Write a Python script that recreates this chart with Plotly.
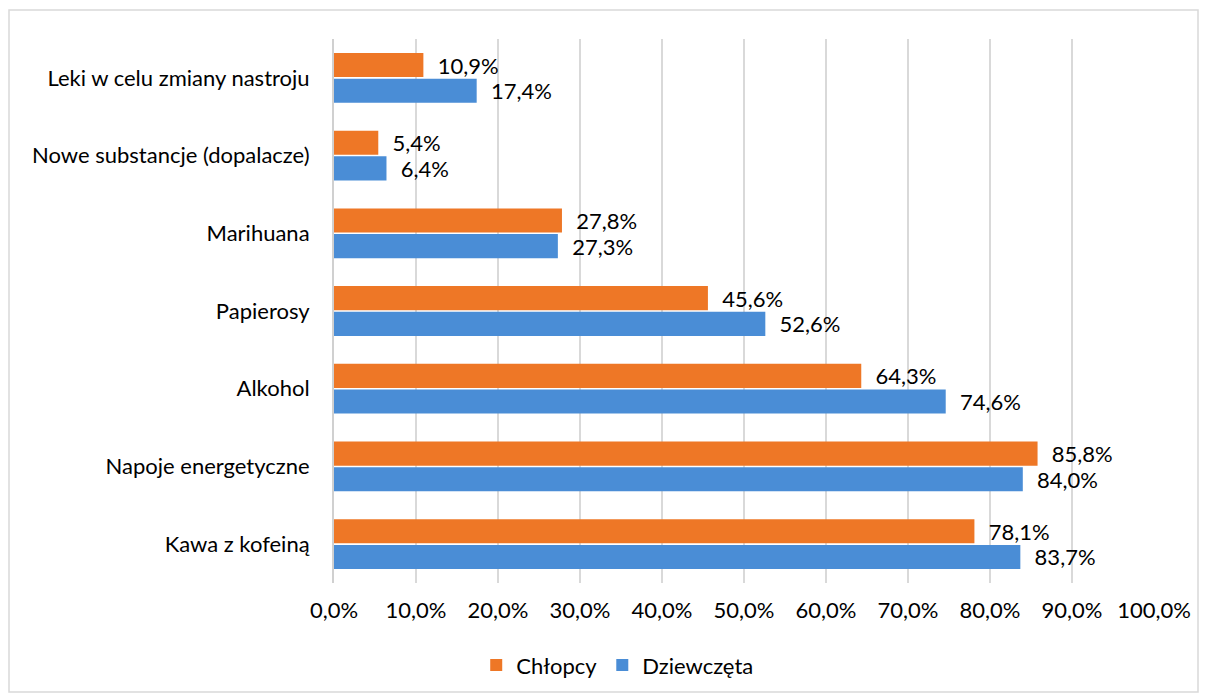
import plotly.graph_objects as go

categories = ["Kawa z kofeiną", "Napoje energetyczne", "Alkohol", "Papierosy",
              "Marihuana", "Nowe substancje (dopalacze)", "Leki w celu zmiany nastroju"]
chlopcy = [78.1, 85.8, 64.3, 45.6, 27.8, 5.4, 10.9]
dziewczeta = [83.7, 84.0, 74.6, 52.6, 27.3, 6.4, 17.4]
x_ticks = [0, 10, 20, 30, 40, 50, 60, 70, 80, 90, 100]
x_ticktext = [f"{v:.1f}%".replace(".", ",") for v in x_ticks]

FONT = "Lato, Open Sans, sans-serif"
FS = 22

fig = go.Figure()
fig.add_trace(go.Bar(
    y=categories, x=dziewczeta, orientation="h", name="Dziewczęta",
    marker=dict(color="#4A8DD6", line=dict(width=0)),
    texttemplate="\u00a0\u00a0%{x:.1f}%", textposition="outside", constraintext="none",
    textfont=dict(size=FS, color="#000000", family=FONT), cliponaxis=False,
))
fig.add_trace(go.Bar(
    y=categories, x=chlopcy, orientation="h", name="Chłopcy",
    marker=dict(color="#EE7726", line=dict(width=0)),
    texttemplate="\u00a0\u00a0%{x:.1f}%", textposition="outside", constraintext="none",
    textfont=dict(size=FS, color="#000000", family=FONT), cliponaxis=False,
))

W, H = 1200, 690
L, R, T, B = 326, 54, 31, 115
pw, ph = W - L - R, H - T - B

fig.update_layout(
    width=W, height=H,
    margin=dict(l=L, r=R, t=T, b=B),
    paper_bgcolor="white", plot_bgcolor="white",
    barmode="group", bargap=0.34, bargroupgap=0.06,
    separators=",.",
    font=dict(family=FONT, size=FS, color="#000000"),
    legend=dict(orientation="h", x=0.346, xanchor="center", y=-0.151, yanchor="middle",
                traceorder="reversed", font=dict(size=FS), itemwidth=30),
    xaxis=dict(range=[0, 100], tickvals=x_ticks, ticktext=x_ticktext,
               showgrid=True, gridcolor="#D9D9D9", gridwidth=1.5, zeroline=False,
               showline=False, ticks="", ticklabelstandoff=12,
               tickfont=dict(size=FS), fixedrange=True),
    yaxis=dict(showline=True, linecolor="#D0D0D0", linewidth=2, ticks="",
               ticklabelstandoff=18, tickfont=dict(size=FS), showgrid=False),
    shapes=[dict(type="rect", xref="paper", yref="paper",
                 x0=(1 - L) / pw, x1=(1190 - L) / pw,
                 y0=(H - B - 684) / ph, y1=(H - B - 2) / ph,
                 line=dict(color="#D9D9D9", width=1.5), fillcolor="rgba(0,0,0,0)", layer="below")],
    showlegend=True,
)

fig.write_html("out.html")
